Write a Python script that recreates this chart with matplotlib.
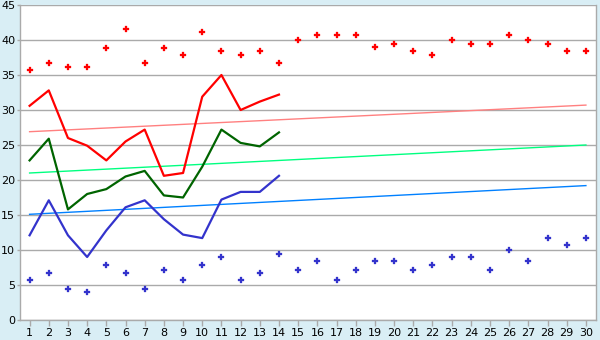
import matplotlib
matplotlib.use('Agg')
import matplotlib.pyplot as plt

days = list(range(1, 31))
day_labels = [str(d) for d in days]

max_pts = [35.7, 36.7, 36.1, 36.1, 38.9, 41.6, 36.7, 38.9, 37.8, 41.1,
           38.4, 37.8, 38.4, 36.7, 40.0, 40.7, 40.7, 40.7, 39.0, 39.4,
           38.4, 37.8, 40.0, 39.4, 39.4, 40.7, 40.0, 39.4, 38.4, 38.4]
min_pts = [5.7, 6.7, 4.4, 4.0, 7.8, 6.7, 4.4, 7.2, 5.7, 7.8,
           9.0, 5.7, 6.7, 9.4, 7.2, 8.4, 5.7, 7.2, 8.4, 8.4,
           7.2, 7.8, 9.0, 9.0, 7.2, 10.0, 8.4, 11.7, 10.7, 11.7]

line_days = list(range(1, 15))
high_line = [30.6, 32.8, 26.0, 24.9, 22.8, 25.5, 27.2, 20.6, 21.0, 31.9, 35.0, 30.0, 31.2, 32.2]
mid_line = [22.8, 25.9, 15.8, 18.0, 18.7, 20.5, 21.3, 17.8, 17.5, 21.9, 27.2, 25.3, 24.8, 26.8]
low_line = [12.1, 17.1, 12.1, 9.0, 12.8, 16.1, 17.1, 14.4, 12.2, 11.7, 17.2, 18.3, 18.3, 20.6]

trend_days = [1, 30]
high_trend = [26.9, 30.7]
mid_trend = [21.0, 25.0]
low_trend = [15.1, 19.2]

bg = '#d9eef5'
grid_c = '#aaaaaa'

fig = plt.figure(figsize=(6, 3.4), dpi=100, facecolor=bg)
ax = fig.add_axes([20 / 600, 20 / 340, 575.5 / 600, 315 / 340])
ax.set_facecolor('white')

for v in range(0, 50, 5):
    ax.axhline(v, color=grid_c, lw=1.0, zorder=1)

ax.plot(trend_days, high_trend, color='#ff8080', lw=1.0, zorder=2)
ax.plot(trend_days, mid_trend, color='#00ff80', lw=1.0, zorder=2)
ax.plot(trend_days, low_trend, color='#0080ff', lw=1.0, zorder=2)

ax.plot(line_days, high_line, color='#ff0000', lw=1.6, zorder=3)
ax.plot(line_days, mid_line, color='#006400', lw=1.6, zorder=3)
ax.plot(line_days, low_line, color='#3333cc', lw=1.6, zorder=3)

ax.plot(days, max_pts, ls='none', marker='P', ms=4.8, color='#ff0000', mec='#ff0000', mew=0.2, zorder=4)
ax.plot(days, min_pts, ls='none', marker='P', ms=4.8, color='#3333cc', mec='#3333cc', mew=0.2, zorder=4)

ax.set_xlim(0.5, 30.5)
ax.set_ylim(0, 45)
ax.set_xticks(days)
ax.set_xticklabels(day_labels)
ax.set_yticks(range(0, 50, 5))
ax.tick_params(axis='both', labelsize=8, color=grid_c, width=1)
ax.tick_params(axis='y', length=2.5, pad=1)
ax.tick_params(axis='x', length=4, pad=2)
for s in ['left', 'right', 'bottom']:
    ax.spines[s].set_color(grid_c)
    ax.spines[s].set_linewidth(1.0)
ax.spines['top'].set_visible(False)

fig.savefig('out.png', dpi=100, facecolor=bg)
